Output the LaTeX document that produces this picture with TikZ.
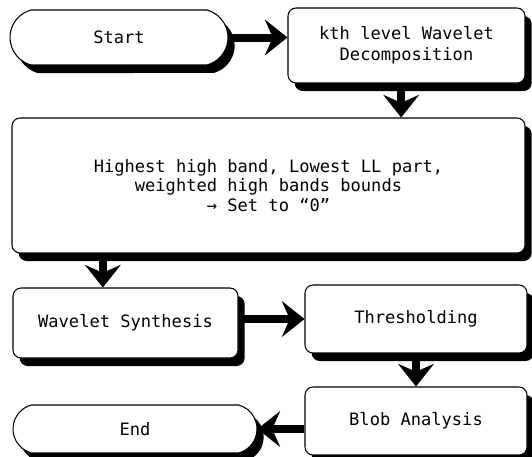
\documentclass[tikz,border=0pt]{standalone}
\usepackage{fontspec}
\setmonofont{DejaVu Sans Mono}
\usetikzlibrary{positioning,arrows.meta,shapes.misc,shadows}

\begin{document}
\begin{tikzpicture}[x=0.75pt,y=-0.75pt,
    font=\ttfamily\fontsize{12.8}{16}\selectfont,
    shade/.style={drop shadow={shadow xshift=5pt,shadow yshift=-6pt,fill=black,opacity=1}},
    box/.style={draw,rectangle,rounded corners=6pt,line width=0.8pt,fill=white,align=center,inner sep=0pt,shade},
    term/.style={draw,rounded rectangle,rounded rectangle arc length=150,line width=0.8pt,fill=white,inner sep=0pt,shade},
    flow/.style={line width=6pt,-{Stealth[length=17pt,width=27pt,inset=6pt,line width=0.5pt]}}]
        \useasboundingbox (0,0) rectangle (532,457);
        \node[term,minimum width=163.5pt,minimum height=41.25pt] (Start) at (119,37.5) {Start};
        \node[box,minimum width=177.75pt,minimum height=56.25pt] (Decomp) at (406.5,45.5) {kth level Wavelet\\Decomposition};
        \node[box,minimum width=384.75pt,minimum height=101.25pt,font=\ttfamily\fontsize{12.8}{14.5}\selectfont] (Big) at (268.5,185.5)
          {Highest high band, Lowest LL part,\\weighted high bands bounds\\→ Set to “0”};
        \node[box,minimum width=168.75pt,minimum height=52.5pt] (Synth) at (125.5,323) {Wavelet Synthesis};
        \node[box,minimum width=166.5pt,minimum height=51pt] (Thresh) at (416,319) {Thresholding};
        \node[box,minimum width=166.5pt,minimum height=51pt] (Blob) at (416,421) {Blob Analysis};
        \node[term,minimum width=183pt,minimum height=36pt] (End) at (135,429) {End};
        \draw[flow] (Start.east) -- (Start.east -| Decomp.west);
        \draw[flow] ([xshift=-4pt]Decomp.south) -- ([xshift=-4pt]Decomp.south |- Big.north);
        \draw[flow] ([xshift=-17pt]Synth.north |- Big.south) -- ([xshift=-17pt]Synth.north);
        \draw[flow] (Thresh.west -| Synth.east) -- (Thresh.west);
        \draw[flow] (Thresh.south) -- (Blob.north);
        \draw[flow] (End.east -| Blob.west) -- (End.east);
      \end{tikzpicture}
\end{document}
